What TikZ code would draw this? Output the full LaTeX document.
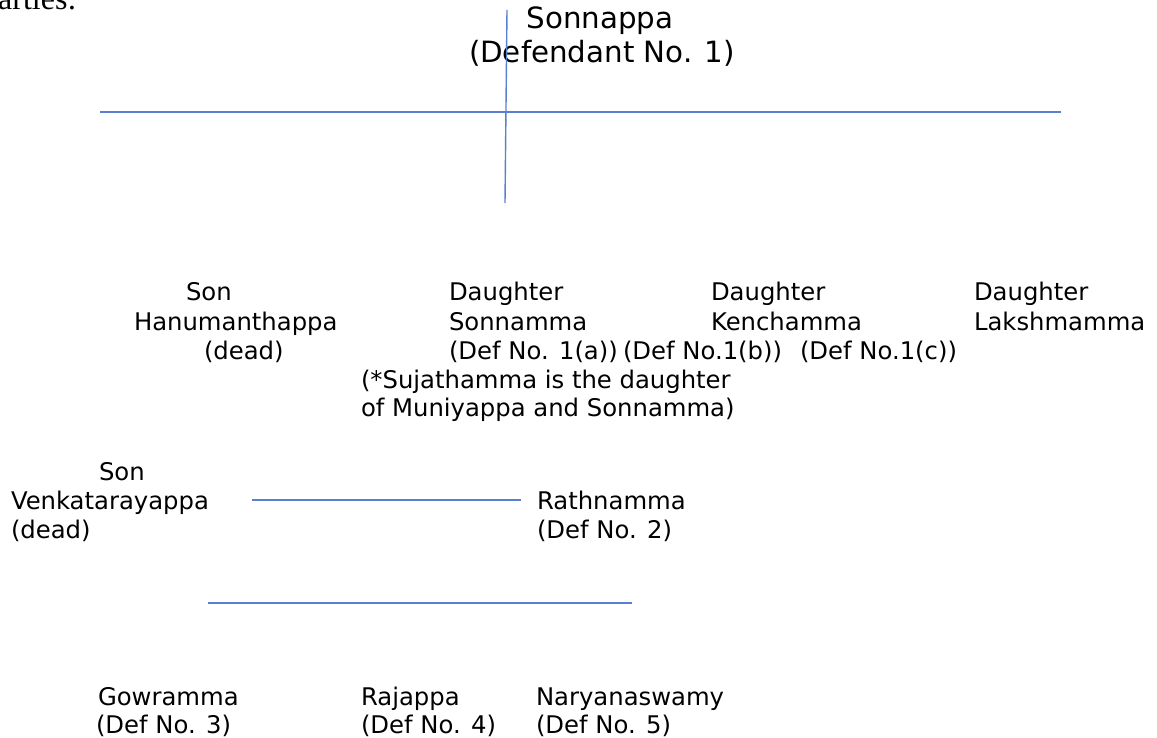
\documentclass[tikz,border=0pt]{standalone}
\usepackage{fontspec}
\setmainfont{DejaVu Sans}
\newfontfamily\serifpart{Liberation Serif}
\definecolor{linkblue}{HTML}{5B7FD0}
\tikzset{
  lbl/.style={anchor=base west, inner sep=0pt, outer sep=0pt, font=\fontsize{24.3}{29}\selectfont},
  toplbl/.style={anchor=base, inner sep=0pt, outer sep=0pt, font=\fontsize{29.3}{34}\selectfont},
  link/.style={draw=linkblue, line width=1.4pt}
}
\begin{document}
\begin{tikzpicture}[x=1pt,y=-1pt]
\useasboundingbox (0,0) rectangle (1157,738);
\clip (0,0) rectangle (1157,738);
% cut-off text at top left
\node[anchor=base west, inner sep=0pt, font=\serifpart\fontsize{32}{36}\selectfont] (parties) at (-2,10) {arties:};
% root
\node[toplbl] (root1) at (600,29) {Sonnappa};
\node[toplbl] (root2) at (602,63) {(Defendant No. 1)};
% tree lines
\coordinate (vtop) at (507,10);
\coordinate (vbot) at (505,203);
\coordinate (hl) at (100,112);
\coordinate (hr) at (1061,112);
\draw[link] (vtop) -- (vbot);
\draw[link] (hl) -- (hr);
% children row
\node[lbl] (s1a) at (186,301) {Son};
\node[lbl] (s1b) at (134,330) {Hanumanthappa};
\node[lbl] (s1c) at (204,359) {(dead)};
\node[lbl] (d1a) at (449,301) {Daughter};
\node[lbl] (d1b) at (449,330) {Sonnamma};
\node[lbl] (d1c) at (449,359) {(Def No. 1(a))};
\node[lbl] (d2c) at (623,359) {(Def No.1(b))};
\node[lbl] (d3c) at (800,359) {(Def No.1(c))};
\node[lbl] (note1) at (361,388) {(*Sujathamma is the daughter};
\node[lbl] (note2) at (361,416) {of Muniyappa and Sonnamma)};
\node[lbl] (d2a) at (711,301) {Daughter};
\node[lbl] (d2b) at (711,330) {Kenchamma};
\node[lbl] (d3a) at (974,301) {Daughter};
\node[lbl] (d3b) at (974,330) {Lakshmamma};
% grandchild row
\node[lbl] (v1) at (99,480) {Son};
\node[lbl] (v2) at (11,509) {Venkatarayappa};
\node[lbl] (v3) at (11,538) {(dead)};
\node[lbl] (r1) at (537,509) {Rathnamma};
\node[lbl] (r2) at (537,538) {(Def No. 2)};
\coordinate (ml) at (252,500);
\coordinate (mr) at (521,500);
\draw[link] (ml) -- (mr);
\coordinate (cl) at (208,603);
\coordinate (cr) at (632,603);
\draw[link] (cl) -- (cr);
% great-grandchildren
\node[lbl] (g1) at (98,705) {Gowramma};
\node[lbl] (g2) at (96,733) {(Def No. 3)};
\node[lbl] (j1) at (361,705) {Rajappa};
\node[lbl] (j2) at (361,733) {(Def No. 4)};
\node[lbl] (n1) at (536,705) {Naryanaswamy};
\node[lbl] (n2) at (536,733) {(Def No. 5)};
\end{tikzpicture}
\end{document}
